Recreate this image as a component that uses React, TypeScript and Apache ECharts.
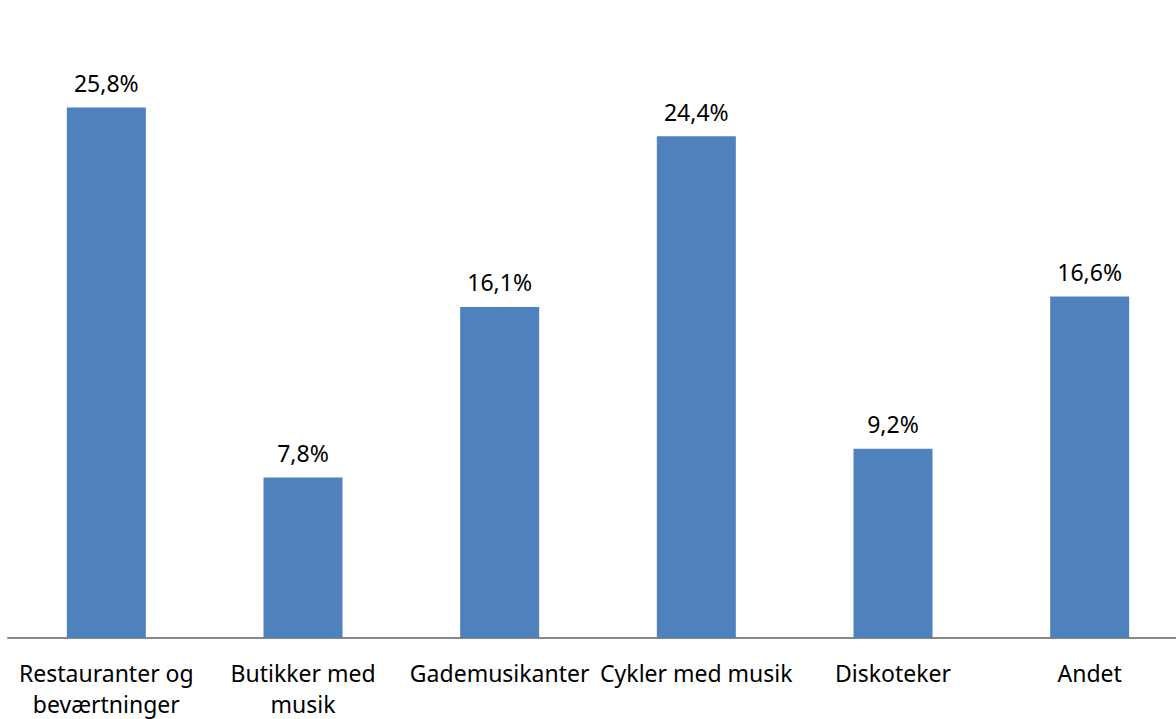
import React, { useEffect, useRef } from "react";
import * as echarts from "echarts";

const categories = [
  "Restauranter og\nbeværtninger",
  "Butikker med\nmusik",
  "Gademusikanter",
  "Cykler med musik",
  "Diskoteker",
  "Andet",
];
const values = [25.8, 7.8, 16.1, 24.4, 9.2, 16.6];

export default function App() {
  const ref = useRef<HTMLDivElement>(null);
  useEffect(() => {
    if (!ref.current) return;
    const chart = echarts.init(ref.current, null, { renderer: "svg" });
    chart.setOption({
      animation: false,
      backgroundColor: "#ffffff",
      textStyle: { fontFamily: "Noto Sans" },
      grid: { left: 8, top: 21, right: 0, bottom: 79, containLabel: false },
      xAxis: {
        type: "category",
        data: categories,
        axisLine: { lineStyle: { color: "#888888", width: 2 } },
        axisTick: { show: false },
        axisLabel: {
          color: "#000000",
          fontSize: 23,
          lineHeight: 31,
          margin: 19,
          interval: 0,
          fontFamily: "Noto Sans",
        },
      },
      yAxis: {
        type: "value",
        min: 0,
        max: 30,
        show: false,
        splitLine: { show: false },
      },
      series: [
        {
          type: "bar",
          data: values,
          barWidth: 79,
          itemStyle: { color: "#4F81BD" },
          label: {
            show: true,
            position: "top",
            distance: 13,
            color: "#000000",
            fontSize: 23,
            fontFamily: "Noto Sans",
            formatter: (p: any) => p.value.toFixed(1).replace(".", ",") + "%",
          },
        },
      ],
    });
    return () => chart.dispose();
  }, []);
  return (
    <div
      ref={ref}
      style={{ position: "fixed", left: 0, top: 0, width: 1188, height: 719 }}
    />
  );
}
